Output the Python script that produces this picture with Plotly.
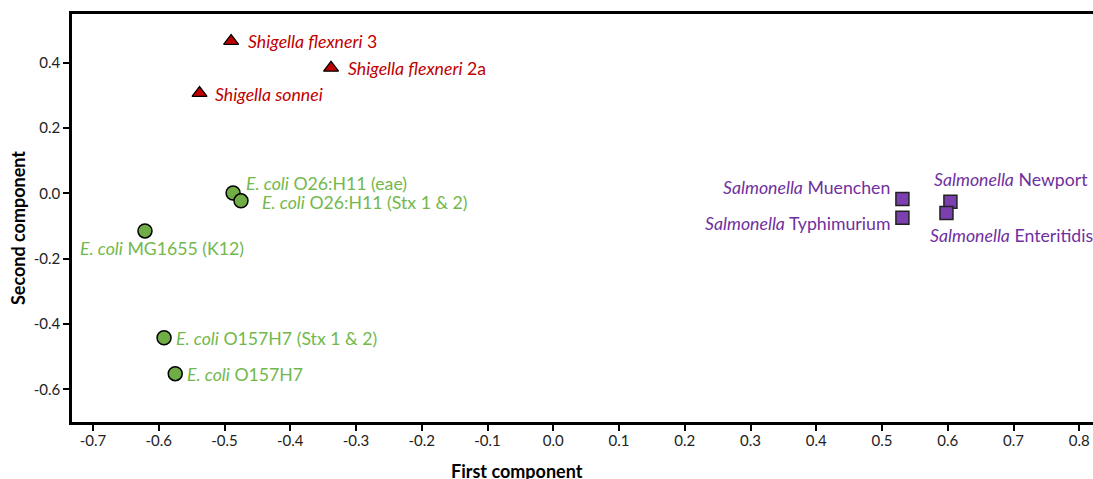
import plotly.graph_objects as go

# ---- data ----
shigella_names_italic = ["Shigella flexneri", "Shigella flexneri", "Shigella sonnei"]
shigella_names_plain = [" 3", " 2a", ""]
shigella_x = [-0.490, -0.338, -0.538]
shigella_y = [0.466, 0.384, 0.307]

ecoli_names_italic = ["E. coli", "E. coli", "E. coli", "E. coli", "E. coli"]
ecoli_names_plain = [" O26:H11 (eae)", " O26:H11 (Stx 1 & 2)", " MG1655 (K12)",
                     " O157H7 (Stx 1 & 2)", " O157H7"]
ecoli_x = [-0.487, -0.475, -0.621, -0.592, -0.575]
ecoli_y = [0.001, -0.023, -0.115, -0.442, -0.552]

salm_names_italic = ["Salmonella", "Salmonella", "Salmonella", "Salmonella"]
salm_names_plain = [" Muenchen", " Typhimurium", " Newport", " Enteritidis"]
salm_x = [0.531, 0.531, 0.604, 0.598]
salm_y = [-0.017, -0.075, -0.026, -0.060]

x_ticks = [-0.7, -0.6, -0.5, -0.4, -0.3, -0.2, -0.1, 0.0, 0.1, 0.2, 0.3, 0.4, 0.5, 0.6, 0.7, 0.8]
y_ticks = [-0.6, -0.4, -0.2, 0.0, 0.2, 0.4]

# ---- label placement (pixel offsets, anchor) ----
shigella_pos = [("left", 15, 0), ("left", 15, -1), ("left", 13, -1)]
ecoli_pos = [("left", 11, 10), ("left", 19, -2), ("left", -67, -18),
             ("left", 10, -1), ("left", 10, -1)]
salm_pos = [("right", -10, 11), ("right", -10, -6), ("left", -18, 22), ("left", -18, -23)]

RED = "#c00000"
GREEN = "#72b84c"
GREEN_FILL = "#70ad47"
PURPLE = "#7030a0"
FONT = "Lato"

fig = go.Figure()
fig.add_trace(go.Scatter(x=shigella_x, y=shigella_y, mode="markers", cliponaxis=False,
                         hoverinfo="skip",
                         marker=dict(symbol="triangle-up", size=13, color=RED,
                                     line=dict(color="black", width=1.3))))
fig.add_trace(go.Scatter(x=ecoli_x, y=ecoli_y, mode="markers", cliponaxis=False,
                         hoverinfo="skip",
                         marker=dict(symbol="circle", size=14, color=GREEN_FILL,
                                     line=dict(color="black", width=1.5))))
fig.add_trace(go.Scatter(x=salm_x, y=salm_y, mode="markers", cliponaxis=False,
                         hoverinfo="skip",
                         marker=dict(symbol="square", size=13, color="#7b3fb0",
                                     line=dict(color="#222222", width=1.5))))

annotations = []
for xs, ys, it, pl, pos, col in [
    (shigella_x, shigella_y, shigella_names_italic, shigella_names_plain, shigella_pos, RED),
    (ecoli_x, ecoli_y, ecoli_names_italic, ecoli_names_plain, ecoli_pos, GREEN),
    (salm_x, salm_y, salm_names_italic, salm_names_plain, salm_pos, PURPLE),
]:
    for x, y, a, b, (anc, dx, dy) in zip(xs, ys, it, pl, pos):
        annotations.append(dict(x=x, y=y, xref="x", yref="y", text=f"<i>{a}</i>{b}",
                                showarrow=False, xanchor=anc, yanchor="middle",
                                xshift=dx, yshift=dy,
                                font=dict(family=FONT, size=17.7, color=col)))

W, H = 1093, 479
ML, MR, MT, MB = 72, 0, 14, 479 - 422
pw, ph = W - ML - MR, H - MT - MB

# axis titles placed at pixel centres, converted to paper coords
for txt, px, py, ang in [("<b>First component</b>", 517, 471, 0),
                         ("<b>Second component</b>", 18, 228, -90)]:
    annotations.append(dict(text=txt, textangle=ang, showarrow=False,
                            x=(px - ML) / pw, y=1 - (py - MT) / ph,
                            xref="paper", yref="paper", xanchor="center", yanchor="middle",
                            font=dict(family=FONT, size=18, color="black")))

x_lo = -0.732
x_hi = x_lo + pw / 657.5

fig.update_layout(
    width=W, height=H,
    margin=dict(l=ML, r=MR, t=MT, b=MB, autoexpand=False),
    plot_bgcolor="white", paper_bgcolor="white",
    showlegend=False,
    hovermode=False,
    annotations=annotations,
    font=dict(family=FONT, color="#222222"),
    xaxis=dict(range=[x_lo, x_hi], tickvals=x_ticks, ticktext=[f"{v:.1f}" for v in x_ticks],
               automargin=False, ticklabelstandoff=-3, ticklabeloverflow="allow",
               showgrid=False, zeroline=False, showline=True, linecolor="black", linewidth=2.5,
               mirror=True, ticks="outside", ticklen=6, tickwidth=2, tickcolor="black",
               tickfont=dict(family=FONT, size=15, color="#222222")),
    yaxis=dict(range=[-0.7, 0.549], tickvals=y_ticks, ticktext=[f"{v:.1f}" for v in y_ticks],
               automargin=False,
               showgrid=False, zeroline=False, showline=True, linecolor="black", linewidth=2.5,
               ticks="outside", ticklen=6, tickwidth=2, tickcolor="black",
               tickfont=dict(family=FONT, size=15, color="#222222")),
)

fig.write_html("out.html", config={"displayModeBar": False},
               post_script="document.body.style.margin='0';document.body.style.overflow='hidden';")
